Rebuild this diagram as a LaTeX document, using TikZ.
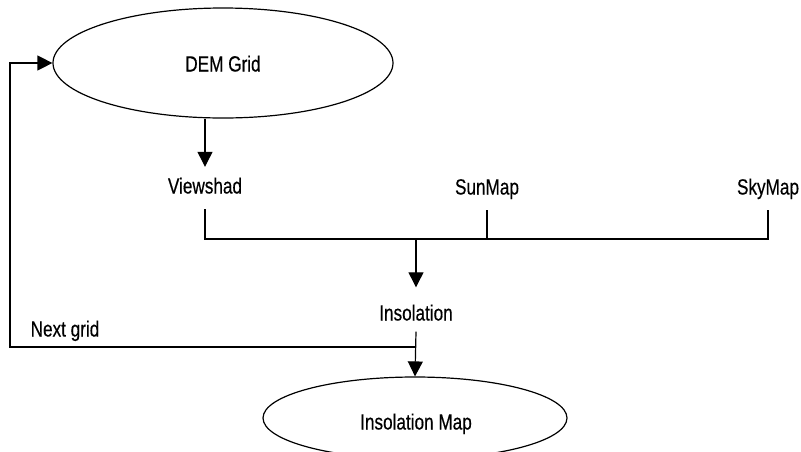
\documentclass[tikz,border=0pt]{standalone}
\usepackage{fontspec}
\setmainfont{Liberation Sans}[FakeStretch=0.78,FakeBold=0.4]
\usetikzlibrary{shapes.geometric,arrows.meta}
\begin{document}
\begin{tikzpicture}[x=1pt,y=-1pt,
  every node/.style={font=\fontsize{22}{26}\selectfont},
  oval/.style={draw,ellipse,line width=1.2pt,inner sep=0pt},
  lbl/.style={inner sep=0pt,text height=16pt,text depth=5pt},
  conn/.style={line width=1.2pt},
  arr/.style={conn,-{Triangle[length=15pt,width=15pt]}}]
\useasboundingbox (0,0) rectangle (801,451);
\node[oval,minimum width=340,minimum height=110] (dem) at (223,63) {};
\node[lbl] at (223,66) {DEM Grid};
\node[lbl,minimum height=42] (view) at (205,188) {Viewshad};
\node[lbl,minimum height=42] (sun) at (487,189) {SunMap};
\node[lbl,minimum height=42] (sky) at (768,189) {SkyMap};
\node[inner sep=0pt,text height=22pt,text depth=0pt,minimum height=44] (ins) at (416,309.5) {Insolation};
\node[oval,minimum width=304,minimum height=82] (map) at (415,418) {};
\node[lbl] at (416,424) {Insolation Map};
\node[lbl] (next) at (65,331) {Next grid};
\coordinate (bus) at (416,239);
\coordinate (loop) at (10,347);
\draw[arr] (view |- dem.south) -- (view.north);
\draw[conn] (view.south) |- (sky |- bus) -- (sky.south);
\draw[conn] (sun.south) -- (sun |- bus);
\draw[arr] (bus) -- (ins.north);
\draw[arr] (ins.south) -- (map.north);
\draw[arr] (loop -| ins) -- (loop) |- (dem.west);
\end{tikzpicture}
\end{document}
